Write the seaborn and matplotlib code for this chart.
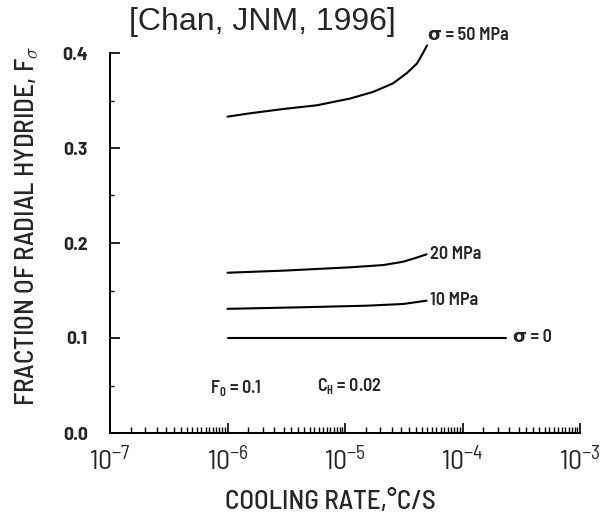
import numpy as np
import pandas as pd
import matplotlib
matplotlib.use("Agg")
import matplotlib.pyplot as plt
import matplotlib.ticker as mticker
import seaborn as sns

# Fraction of radial hydride vs cooling rate for several hoop stresses
rate_50 = [1.0e-6, 1.55e-6, 2.96e-6, 5.78e-6, 1.10e-5, 1.73e-5, 2.56e-5,
           3.37e-5, 4.10e-5, 4.61e-5, 4.99e-5]
frac_50 = [0.333, 0.3365, 0.341, 0.345, 0.352, 0.359, 0.368,
           0.379, 0.389, 0.400, 0.408]

rate_20 = [1.0e-6, 2.98e-6, 1.10e-5, 2.12e-5, 3.13e-5, 4.07e-5, 4.95e-5]
frac_20 = [0.1687, 0.1709, 0.1744, 0.1768, 0.1803, 0.1846, 0.1881]

rate_10 = [1.0e-6, 4.14e-6, 1.53e-5, 3.13e-5, 4.95e-5]
frac_10 = [0.1307, 0.1323, 0.1340, 0.1358, 0.1393]

rate_0 = [1.0e-6, 2.34e-4]
frac_0 = [0.1, 0.1]

stress_labels = ["σ = 50 MPa", "20 MPa", "10 MPa", "σ = 0"]
label_rate = [5.1e-5, 5.3e-5, 5.3e-5, 2.7e-4]
label_frac = [0.418, 0.188, 0.139, 0.100]

x_ticks = [1e-7, 1e-6, 1e-5, 1e-4, 1e-3]
y_ticks = [0.0, 0.1, 0.2, 0.3, 0.4]

curves = [(rate_50, frac_50), (rate_20, frac_20), (rate_10, frac_10), (rate_0, frac_0)]
df = pd.concat(
    [pd.DataFrame({"rate": r, "frac": f, "stress": s})
     for (r, f), s in zip(curves, stress_labels)],
    ignore_index=True,
)

sns.set_style("ticks")
semi = ["Barlow Semi Condensed", "DejaVu Sans"]
plt.rcParams["font.family"] = semi
plt.rcParams["mathtext.fontset"] = "custom"
plt.rcParams["mathtext.rm"] = "Barlow Condensed:semibold"
plt.rcParams["mathtext.it"] = "Barlow Condensed:semibold"
plt.rcParams["mathtext.bf"] = "Barlow Condensed:bold"

fig = plt.figure(figsize=(6.01, 5.17), dpi=100)
ax = fig.add_axes([110 / 601, 84 / 517, 470 / 601, 380 / 517])

sns.lineplot(data=df, x="rate", y="frac", hue="stress", units="stress",
             estimator=None, sort=False, palette=["black"] * 4,
             linewidth=1.5, legend=False, ax=ax, clip_on=False)

ax.set_xscale("log")
ax.set_xlim(1e-7, 1e-3)
ax.set_ylim(0.0, 0.4)
sns.despine(ax=ax)
for sp in ("left", "bottom"):
    ax.spines[sp].set_linewidth(1.4)
    ax.spines[sp].set_color("black")

ax.set_xticks(x_ticks)
ax.xaxis.set_major_formatter(mticker.LogFormatterSciNotation())
ax.xaxis.set_minor_locator(mticker.LogLocator(base=10, subs=np.arange(1.5, 10, 0.5), numticks=20))
ax.xaxis.set_minor_formatter(mticker.NullFormatter())
ax.set_yticks(y_ticks)
ax.yaxis.set_major_formatter(mticker.FormatStrFormatter("%.1f"))
ax.yaxis.set_minor_locator(mticker.MultipleLocator(0.05))

ax.tick_params(axis="x", which="major", direction="in", length=7, width=1.2,
               pad=10, labelsize=20, color="black")
ax.tick_params(axis="x", which="minor", direction="in", length=4, width=1.0, color="black")
ax.tick_params(axis="y", which="major", direction="in", length=7, width=1.2,
               pad=16, labelsize=14, color="black")
ax.tick_params(axis="y", which="minor", direction="in", length=3, width=1.0, color="black")
for lab in ax.get_yticklabels():
    lab.set_fontweight("bold")

ax.set_xlabel("COOLING RATE,°C/S", fontsize=19.5, fontweight="medium", va="center")
ax.xaxis.set_label_coords(0.468, -0.181)
ax.set_ylabel("FRACTION OF RADIAL HYDRIDE, F$_\\sigma$", fontsize=19.5,
              fontweight="medium", va="center", ha="center")
ax.yaxis.set_label_coords(-0.177, 0.545)

for txt, xr, yf in zip(stress_labels, label_rate, label_frac):
    ax.text(xr, yf, txt, fontsize=13, fontweight="semibold", ha="left", va="center",
            clip_on=False)

ax.text(7.1e-7, 0.047, "F$_\\mathrm{O}$ = 0.1", fontsize=13, fontweight="semibold",
        ha="left", va="center")
ax.text(5.8e-6, 0.049, "C$_\\mathrm{H}$ = 0.02", fontsize=13, fontweight="semibold",
        ha="left", va="center")

fig.text(262 / 601, 1 - 22 / 517, "[Chan, JNM, 1996]", fontsize=23,
         family=["Liberation Sans", "DejaVu Sans"], ha="center", va="center")

fig.savefig("out.png", dpi=100)
